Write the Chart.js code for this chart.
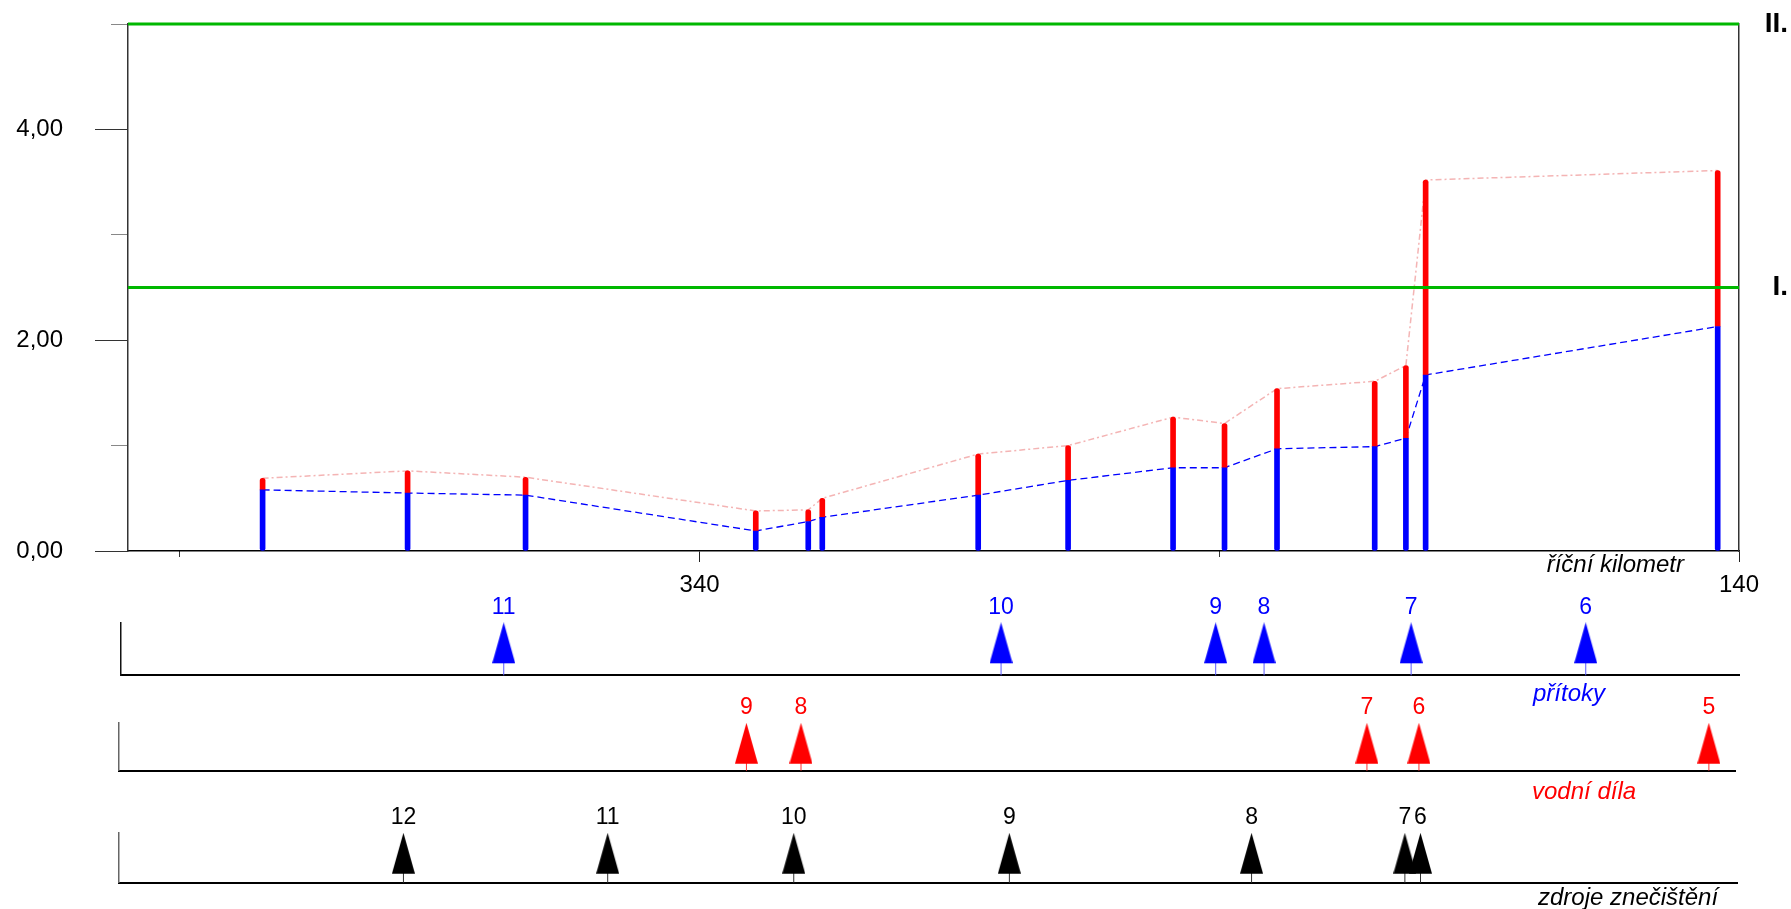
<!DOCTYPE html>
<html lang="cs">
  <head>
    <meta charset="utf-8">
    <title>Podélný profil</title>
    <script src="https://cdn.jsdelivr.net/npm/chart.js@4.4.0/dist/chart.umd.min.js"></script>
    <style>
      body { margin: 0; background: #fff; overflow: hidden; }
      #page { position: relative; width: 1791px; height: 909px; font-family: "Liberation Sans", Arial, sans-serif; }
      canvas { position: absolute; left: 0; }
      .cap { position: absolute; font-style: italic; font-size: 24px; line-height: 28px; white-space: nowrap; }
    </style>
  </head>
  <body>
    <div id="page">
      <canvas id="mainChart" width="1791" height="610" style="top:0"></canvas>
      <canvas id="strip1" width="1791" height="100" style="top:590px"></canvas>
      <canvas id="strip2" width="1791" height="100" style="top:690px"></canvas>
      <canvas id="strip3" width="1791" height="100" style="top:800px"></canvas>

      <div class="cap" style="top:550px; right:107px; color:#000">říční kilometr</div>
      <div class="cap" style="top:679px; left:1533px; color:#0000ff">přítoky</div>
      <div class="cap" style="top:777px; left:1532px; color:#ff0000">vodní díla</div>
      <div class="cap" style="top:883px; left:1538px; color:#000">zdroje znečištění</div>
    </div>
  <script>
  // ---- data ----
  // measuring points (river km) and the two stacked values
  var km       = [424.1, 396.2, 373.5, 329.2, 319.1, 316.4, 286.4, 269.1, 248.9, 239.0, 228.9, 210.1, 204.1, 200.3, 144.1];
  var blueVals = [0.58, 0.55, 0.53, 0.19, 0.28, 0.32, 0.53, 0.67, 0.79, 0.79, 0.97, 0.99, 1.07, 1.67, 2.13];
  var redVals  = [0.69, 0.76, 0.70, 0.38, 0.39, 0.50, 0.92, 1.00, 1.27, 1.21, 1.54, 1.61, 1.76, 3.52, 3.61];

  // limit lines
  var limitVals  = [2.5, 5.0];
  var limitNames = ['I.', 'II.'];

  // axes
  var xMin = 140, xMax = 450;
  var xLabelTicks = [340, 140];
  var xMinorTicks = [440, 240];
  var yMin = 0, yMax = 5;
  var yLabelTicks = [0, 2, 4];
  var yMinorTicks = [1, 3, 5];

  // tributaries, water works, pollution sources (river km + number)
  var tribKm = [377.7, 282.0, 240.7, 231.4, 203.1, 169.5];
  var tribNo = ['11', '10', '9', '8', '7', '6'];
  var damKm  = [331.0, 320.5, 211.6, 201.6, 145.8];
  var damNo  = ['9', '8', '7', '6', '5'];
  var srcKm  = [397.0, 357.7, 321.9, 280.4, 233.8, 204.3, 201.3];
  var srcNo  = ['12', '11', '10', '9', '8', '7', '6'];

  //-----------------------------------------------------------------------------
  var FONT = '"Liberation Sans", Arial, sans-serif';
  Chart.defaults.font.family = FONT;
  Chart.defaults.color = '#000';
  Chart.defaults.animation = false;

  function pts(xs, ys){
    var out = [];
    for(var i = 0; i < xs.length; ++i) out.push({x: xs[i], y: ys[i]});
    return out;
  }
  function ranges(xs, lo, hi){
    var out = [];
    for(var i = 0; i < xs.length; ++i) out.push({x: xs[i], y: [lo ? lo[i] : 0, hi[i]]});
    return out;
  }
  function fixTicks(list){
    return function(s){ s.ticks = list.map(function(v){ return {value: v}; }); };
  }
  // fixed axis box, no extra label padding pushing the plot area
  function fixSize(w, h){
    return function(s){
      if (w !== null) s.width = w;
      if (h !== null) s.height = h;
      s.paddingTop = 0; s.paddingBottom = 0; s.paddingLeft = 0; s.paddingRight = 0;
    };
  }

  var limitDatasets = limitVals.map(function(v){
    return {
      type: 'line', data: [{x: xMax, y: v}, {x: xMin, y: v}],
      borderColor: '#00b800', borderWidth: 3, pointRadius: 0, order: 0, clip: false
    };
  });

  var mainChart = new Chart(document.getElementById('mainChart'), {
    type: 'bar',
    data: {
      datasets: [
        { type: 'line', data: pts(km, redVals), borderColor: 'rgba(238,140,140,0.65)', borderWidth: 1.5,
          borderDash: [6, 3, 2, 3], pointRadius: 0, order: 3 },
        { type: 'line', data: pts(km, blueVals), borderColor: '#0000ff', borderWidth: 1.3,
          borderDash: [7, 4], pointRadius: 0, order: 3 },
        { data: ranges(km, null, blueVals), backgroundColor: '#0000ff', barThickness: 5,
          grouped: false, borderRadius: 2.5, borderSkipped: 'end', order: 1 },
        { data: ranges(km, blueVals, redVals), backgroundColor: '#ff0000', barThickness: 5,
          grouped: false, borderRadius: 2.5, borderSkipped: 'start', order: 1 }
      ].concat(limitDatasets)
    },
    options: {
      responsive: false,
      layout: { padding: { top: 24, right: 3, left: 0, bottom: 0 } },
      plugins: { legend: { display: false }, tooltip: { enabled: false } },
      scales: {
        x: {
          type: 'linear', min: xMin, max: xMax, reverse: true, offset: false, weight: 1,
          afterBuildTicks: fixTicks(xMinorTicks.concat(xLabelTicks)),
          afterFit: fixSize(null, 59),
          grid: { drawOnChartArea: false, tickLength: 11, offset: false,
            tickColor: function(c){
              return (c.tick && xLabelTicks.indexOf(c.tick.value) >= 0) ? '#222' : 'rgba(0,0,0,0)';
            } },
          border: { color: '#000', width: 1.5 },
          ticks: { autoSkip: false, maxRotation: 0, padding: 9, font: { size: 24 },
            callback: function(v){ return xLabelTicks.indexOf(v) >= 0 ? String(v) : ''; } }
        },
        x2: {
          type: 'linear', min: xMin, max: xMax, reverse: true, offset: false, position: 'bottom', weight: 0,
          afterBuildTicks: fixTicks(xMinorTicks),
          afterFit: fixSize(null, 0),
          grid: { drawOnChartArea: false, tickLength: 6, tickColor: '#333', offset: false },
          border: { display: false },
          ticks: { display: false }
        },
        y: {
          min: yMin, max: yMax, position: 'left', weight: 1,
          afterBuildTicks: fixTicks(yLabelTicks),
          afterFit: fixSize(128, null),
          grid: { drawOnChartArea: false, tickLength: 33, tickColor: '#333' },
          border: { color: '#333', width: 1.5 },
          ticks: { padding: 32, font: { size: 24 },
            callback: function(v){ return v.toFixed(2).replace('.', ','); } }
        },
        y2: {
          min: yMin, max: yMax, position: 'left', weight: 0,
          afterBuildTicks: fixTicks(yMinorTicks),
          afterFit: fixSize(0, null),
          grid: { drawOnChartArea: false, tickLength: 17, tickColor: '#888' },
          border: { display: false },
          ticks: { display: false }
        },
        yR: {
          min: yMin, max: yMax, position: 'right',
          afterBuildTicks: fixTicks(limitVals),
          afterFit: fixSize(49, null),
          grid: { drawOnChartArea: false, drawTicks: false },
          border: { color: '#333', width: 1.5 },
          ticks: { crossAlign: 'far', padding: 0, font: { size: 28, weight: 'bold' },
            callback: function(v){ var i = limitVals.indexOf(v); return i >= 0 ? limitNames[i] : ''; } }
        }
      }
    }
  });

  //-----------------------------------------------------------------------------
  // number labels above the arrows
  var arrowLabels = {
    id: 'arrowLabels',
    afterDatasetsDraw: function(chart, args, opts){
      var ctx = chart.ctx, meta = chart.getDatasetMeta(0);
      ctx.save();
      ctx.font = '23px ' + FONT;
      ctx.fillStyle = opts.color;
      ctx.textAlign = 'center';
      ctx.textBaseline = 'middle';
      meta.data.forEach(function(pt, i){
        ctx.fillText(opts.labels[i], pt.x, chart.chartArea.top - 14.5);
      });
      ctx.restore();
    }
  };

  function makeArrow(color, stemColor, h){
    var c = document.createElement('canvas');
    c.width = 23; c.height = 2 * h;
    var g = c.getContext('2d');
    g.fillStyle = color;
    g.beginPath();
    g.moveTo(11.5, 0); g.lineTo(23, 41); g.lineTo(0, 41); g.closePath();
    g.fill();
    g.fillStyle = stemColor;
    g.fillRect(11, 41, 1, h - 41);
    return c;
  }

  function makeStrip(id, box, xs, labels, color, stemColor, axisColor){
    var mx = mainChart.scales.x;
    var h = Math.round(box.bottom - box.top);
    return new Chart(document.getElementById(id), {
      type: 'scatter',
      data: { datasets: [{
        data: xs.map(function(v){ return {x: v, y: 0}; }),
        pointStyle: makeArrow(color, stemColor, h), clip: false
      }] },
      options: {
        responsive: false,
        layout: { padding: { top: box.top, bottom: 100 - box.bottom, left: box.left, right: 1791 - box.right } },
        plugins: { legend: { display: false }, tooltip: { enabled: false },
          arrowLabels: { labels: labels, color: color } },
        scales: {
          x: {
            type: 'linear', reverse: true, offset: false,
            min: mx.getValueForPixel(box.right), max: mx.getValueForPixel(box.left),
            afterFit: fixSize(null, 0),
            grid: { drawOnChartArea: false, drawTicks: false },
            border: { color: '#000', width: 2 },
            ticks: { display: false }
          },
          y: {
            min: 0, max: 1,
            afterFit: fixSize(0, null),
            grid: { drawOnChartArea: false, drawTicks: false },
            border: { color: axisColor, width: 1.5 },
            ticks: { display: false }
          }
        }
      },
      plugins: [arrowLabels]
    });
  }

  makeStrip('strip1', {top: 32.5, bottom: 85.3, left: 121, right: 1739}, tribKm, tribNo, '#0000ff', '#5a5aff', '#111');
  makeStrip('strip2', {top: 32.3, bottom: 80.7, left: 119, right: 1735}, damKm, damNo, '#ff0000', '#ff3030', '#666');
  makeStrip('strip3', {top: 32.3, bottom: 82.7, left: 119, right: 1737}, srcKm, srcNo, '#000000', '#333', '#666');
  </script>
  </body>
</html>
